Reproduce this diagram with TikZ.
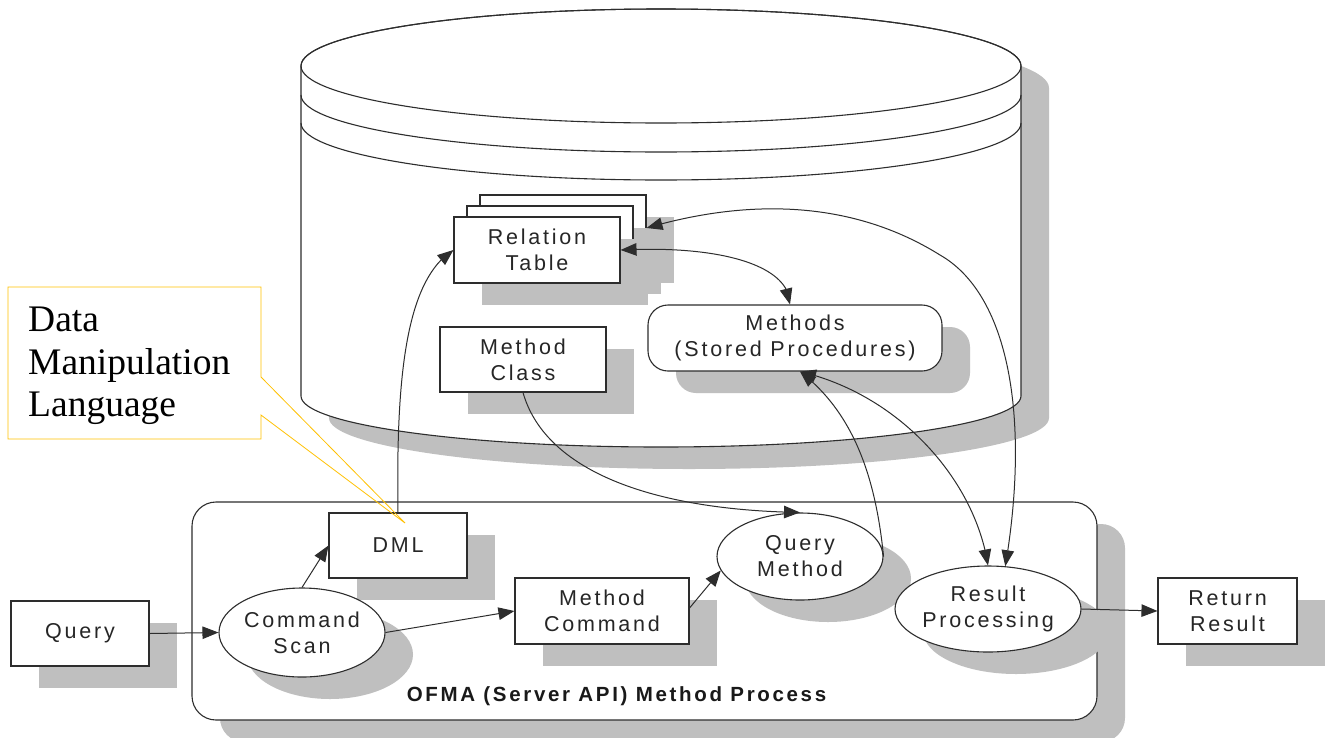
\documentclass[tikz,border=0pt]{standalone}
\usepackage{fontspec}
\usetikzlibrary{arrows.meta,bending,shapes.geometric,shadows}
\newfontfamily\dfont[LetterSpace=13]{Liberation Sans}
\newfontfamily\tfont{Liberation Serif}
\definecolor{shadowgray}{RGB}{191,191,191}
\definecolor{linegray}{RGB}{45,45,45}
\definecolor{callgold}{RGB}{255,192,0}
\begin{document}
\begin{tikzpicture}[x=1pt,y=-1pt,
  shd/.style={drop shadow={shadow xshift=28pt, shadow yshift=-22pt, fill=shadowgray, opacity=1}},
  box/.style={shd, draw=linegray, fill=white, line width=1.1pt, inner sep=0pt, align=center,
    font=\dfont\fontsize{21.5}{26}\selectfont, text=black!85},
  oval/.style={box, ellipse},
  rbox/.style={box, rounded corners=20pt},
  conn/.style={draw=linegray, line width=1pt, -{Triangle[length=16pt,width=12.5pt]}},
  dconn/.style={draw=linegray, line width=1pt, {Triangle[length=16pt,width=12.5pt]}-{Triangle[length=16pt,width=12.5pt]}}
]
\useasboundingbox (0,0) rectangle (1325,737);

% database cylinder
\fill[shadowgray, shift={(28,22)}] (301,66) -- (301,396)
  arc[start angle=180,end angle=0,x radius=360,y radius=51] -- (1021,66)
  arc[start angle=0,end angle=-180,x radius=360,y radius=57] -- cycle;
\draw[linegray, line width=1.1pt, fill=white] (301,66) -- (301,396)
  arc[start angle=180,end angle=0,x radius=360,y radius=51] -- (1021,66)
  arc[start angle=0,end angle=-180,x radius=360,y radius=57] -- cycle;
\draw[linegray, line width=1.1pt] (661,66) ellipse [x radius=360, y radius=57];
\draw[linegray, line width=1.1pt] (301,95) arc[start angle=180,end angle=0,x radius=360,y radius=57];
\draw[linegray, line width=1.1pt] (301,123) arc[start angle=180,end angle=0,x radius=360,y radius=57];

% process container
\node[shd, draw=linegray, fill=white, line width=1.1pt, rounded corners=24pt,
  minimum width=905pt, minimum height=218pt, inner sep=0pt] (proc) at (644.5,611) {};
\node[font=\dfont\bfseries\fontsize{20.5}{24}\selectfont, text=black!90, inner sep=0pt] (lab) at (616.5,696) {OFMA (Server API) Method Process};

% nodes in database
\node[box, minimum width=166pt, minimum height=66pt] (relb) at (563,228) {};
\node[box, minimum width=166pt, minimum height=66pt] (relm) at (550,239) {};
\node[box, minimum width=166pt, minimum height=66pt] (rel) at (537,250) {Relation\\Table};
\node[box, minimum width=166pt, minimum height=65pt] (mcl) at (523,359.5) {Method\\Class};
\node[rbox, minimum width=294pt, minimum height=66pt] (meth) at (795,338) {Methods\\(Stored Procedures)};

% nodes in process
\node[box, minimum width=138pt, minimum height=65pt] (dml) at (398,545.5) {DML};
\node[box, minimum width=138pt, minimum height=65pt] (q) at (80,633.5) {Query};
\node[oval, minimum width=166pt, minimum height=89pt] (cs) at (302,632.5) {Command\\Scan};
\node[box, minimum width=174pt, minimum height=66pt] (mc) at (602,611) {Method\\Command};
\node[oval, minimum width=166pt, minimum height=87pt] (qm) at (800,556.5) {Query\\Method};
\node[oval, minimum width=166pt, minimum height=86pt] (rp) at (988,609) {Result\\Processing};
\node[box, minimum width=139pt, minimum height=66pt] (rr) at (1227.5,611) {Return\\Result};

% connectors
\draw[conn] (q.east) -- (cs.west);
\draw[conn] (cs.north) -- (dml.west);
\draw[conn] (cs.east) -- (mc.west);
\draw[conn] ([yshift=3pt]mc.east) -- (qm.190);
\draw[conn] (dml.north) .. controls (396,380) and (405,280) .. (rel.west);
\draw[conn] (mcl.south) .. controls (545,470) and (650,510) .. (qm.north);
\draw[conn] (qm.east) .. controls (875,470) and (850,410) .. ([xshift=5pt]meth.south);
\draw[dconn] ([xshift=5pt]meth.south) .. controls (900,395) and (975,480) .. (rp.north);
\draw[dconn] (rel.east) .. controls (720,245) and (790,265) .. ([xshift=-5pt]meth.north);
\draw[dconn] (relb.east) .. controls (760,195) and (860,205) .. (940,255)
  .. controls (1010,295) and (1030,420) .. (rp.68);
\draw[conn] (rp.east) -- (rr.west);

% callout
\draw[callgold, line width=0.8pt] (8,287) -- (261,287) -- (261,377) -- (405,523) -- (261,415) -- (261,439) -- (8,439) -- cycle;
\node[anchor=north west, align=left, inner sep=0pt, font=\tfont\fontsize{37.5}{42.5}\selectfont] (dmltxt) at (28,307) {Data\\Manipulation\\Language};
\end{tikzpicture}
\end{document}
